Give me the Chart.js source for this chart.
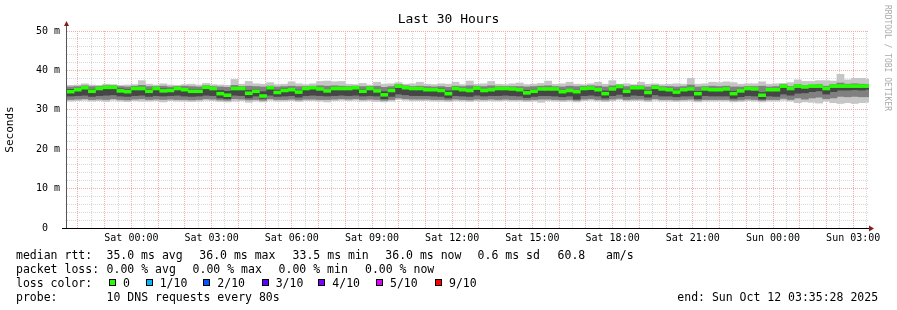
<!DOCTYPE html>
<html>
<head>
<meta charset="utf-8">
<script src="https://cdn.jsdelivr.net/npm/chart.js@4.4.1/dist/chart.umd.min.js"></script>
<style>
  body { margin: 0; background: #fff; }
  #wrap { position: relative; width: 897px; height: 310px; font-family: "DejaVu Sans Mono", monospace; color: #000; overflow: hidden; }
  #chart { position: absolute; left: 0; top: 0; }
  #title { position: absolute; left: 0; top: 11px; width: 897px; text-align: center; font-size: 13px; line-height: 16px; }
  #mark { position: absolute; left: 883px; top: 5px; writing-mode: vertical-rl; font-size: 8px; line-height: 8px; color: #aaa; }
  .t { position: absolute; white-space: pre; font-size: 11.5px; line-height: 14px; }
  .box { position: absolute; width: 5px; height: 5px; border: 1px solid #000; }
</style>
</head>
<body>
<div id="wrap">
  <canvas id="chart" width="897" height="310"></canvas>
  <div id="title">Last 30 Hours</div>
  <div id="mark">RRDTOOL / TOBI OETIKER</div>
  <div id="legend"></div>
</div>
<script>
// time axis in hours relative to Sat 00:00 (window Fri 21:35:28 .. Sun 03:35:28)
const startHour = -2.409;
const endHour = 27.591;
const stepHours = 16 / 60;

const tickHours = [0, 3, 6, 9, 12, 15, 18, 21, 24, 27];
const tickLabels = ['Sat 00:00', 'Sat 03:00', 'Sat 06:00', 'Sat 09:00', 'Sat 12:00',
    'Sat 15:00', 'Sat 18:00', 'Sat 21:00', 'Sun 00:00', 'Sun 03:00'];
const yTickValues = [0, 10, 20, 30, 40, 50];
const yTickLabels = ['0  ', '10 m', '20 m', '30 m', '40 m', '50 m'];

// median rtt per step (ms)
const median = [
    34.6, 35.1, 35.6, 34.7, 35.4, 35.7, 35.7, 34.8, 34.6, 35.4,
    35.4, 34.7, 35.4, 34.8, 34.9, 35.4, 35.1, 34.7, 34.7, 35.7,
    35.4, 34.1, 33.7, 35.4, 35.4, 34.2, 34.7, 33.5, 35.6, 34.4,
    34.9, 35.1, 34.5, 35.4, 35.6, 35.3, 34.8, 35.4, 35.4, 35.4,
    35.6, 34.7, 35.4, 34.8, 33.8, 34.9, 36.0, 35.6, 35.4, 35.4,
    35.1, 35.1, 34.9, 34.1, 35.4, 35.1, 34.9, 35.5, 34.9, 35.1,
    35.4, 35.4, 35.3, 35.1, 34.3, 34.7, 35.3, 35.3, 35.3, 34.6,
    34.9, 34.6, 35.4, 35.5, 35.1, 34.1, 35.3, 35.9, 34.7, 35.6,
    35.6, 34.4, 35.7, 35.3, 35.1, 34.5, 35.1, 35.3, 34.1, 35.3,
    35.1, 35.1, 35.3, 34.1, 34.8, 35.4, 35.3, 33.7, 35.1, 35.1,
    36.0, 35.4, 36.0, 35.8, 36.0, 36.0, 35.4, 36.0, 36.0, 36.0, 36.0, 36.0, 36.0
];

// smoke: outer ping range (light)
const smokeTop = [
    36.2, 36.3, 36.6, 36.3, 36.2, 36.5, 36.4, 36.2, 36.3, 36.4,
    37.4, 36.5, 36.3, 36.6, 36.3, 36.2, 36.4, 36.5, 36.3, 36.7,
    36.4, 36.3, 36.2, 37.7, 36.5, 37.2, 36.6, 36.5, 36.9, 36.4,
    36.5, 37.1, 36.6, 36.4, 36.6, 37.2, 37.3, 37.1, 37.2, 36.5,
    36.4, 36.7, 36.3, 37.0, 36.5, 36.6, 36.9, 36.5, 36.6, 37.0,
    36.5, 36.4, 36.6, 36.5, 37.0, 36.4, 37.3, 36.5, 36.6, 37.2,
    36.5, 36.4, 36.6, 36.8, 36.4, 36.5, 36.7, 37.3, 36.5, 36.6,
    37.0, 36.5, 36.4, 36.6, 37.0, 36.5, 37.4, 36.5, 36.6, 36.4,
    37.0, 36.5, 36.6, 36.4, 36.5, 36.6, 36.5, 38.0, 36.5, 36.6,
    37.0, 36.9, 37.1, 36.9, 36.5, 36.6, 36.6, 37.1, 36.5, 36.6,
    36.7, 36.9, 37.6, 37.2, 37.2, 37.4, 37.4, 37.3, 39.0, 37.6, 38.0, 38.0, 37.8
];
const smokeBottom = [
    32.2, 32.3, 32.4, 32.2, 32.3, 32.1, 32.4, 32.2, 32.1, 32.3,
    32.2, 32.2, 32.3, 32.0, 32.3, 32.2, 32.2, 32.1, 32.2, 32.4,
    32.3, 32.1, 32.0, 32.2, 32.3, 31.9, 32.2, 32.0, 32.4, 32.2,
    32.2, 32.3, 32.1, 32.3, 32.3, 32.2, 32.0, 32.3, 32.4, 32.3,
    32.4, 32.2, 32.3, 32.1, 32.0, 32.2, 32.6, 32.4, 32.3, 32.3,
    32.3, 32.2, 32.2, 32.1, 32.3, 32.2, 32.1, 32.3, 32.2, 32.3,
    32.2, 32.3, 32.2, 32.2, 32.1, 32.2, 31.9, 32.3, 32.2, 32.1,
    32.2, 32.0, 32.3, 32.4, 32.2, 32.1, 32.3, 32.5, 32.2, 32.3,
    32.3, 32.1, 32.4, 32.2, 32.2, 32.1, 32.2, 32.3, 32.0, 32.2,
    32.2, 32.2, 32.2, 32.0, 32.1, 32.3, 32.2, 32.0, 32.2, 32.2,
    32.4, 32.2, 31.8, 32.0, 31.9, 31.7, 32.2, 31.8, 31.6, 31.8, 31.6, 31.8, 31.9
];

// smoke: middle ping range (medium)
const smokeUpper = [
    35.8, 35.9, 36.1, 35.9, 35.9, 36.1, 36.1, 35.9, 35.8, 36.0,
    36.2, 35.9, 35.9, 36.0, 35.8, 35.9, 36.0, 35.9, 35.8, 36.1,
    35.9, 35.8, 35.7, 36.2, 35.9, 36.0, 35.9, 35.8, 36.0, 35.8,
    35.9, 36.0, 35.9, 35.9, 36.0, 36.1, 36.0, 36.1, 36.0, 35.9,
    36.0, 35.9, 35.9, 36.0, 35.7, 35.9, 36.4, 36.1, 35.9, 36.0,
    35.9, 35.8, 35.9, 35.7, 36.0, 35.9, 36.1, 36.0, 35.9, 36.1,
    35.9, 35.9, 35.9, 35.9, 35.8, 35.9, 36.0, 36.1, 35.9, 35.8,
    36.0, 35.9, 36.0, 36.1, 36.0, 35.8, 36.1, 36.3, 35.9, 36.1,
    36.1, 35.8, 36.2, 35.9, 35.9, 35.8, 35.9, 36.3, 35.8, 35.9,
    36.0, 35.9, 36.0, 35.8, 35.8, 35.9, 35.9, 36.0, 35.8, 35.9,
    36.4, 35.9, 36.4, 36.2, 36.3, 36.4, 36.0, 36.4, 36.8, 36.5, 36.6, 36.5, 36.4
];
const smokeLower = [
    32.6, 32.7, 32.8, 32.6, 32.7, 32.6, 32.8, 32.6, 32.5, 32.7,
    32.8, 32.6, 32.7, 32.6, 32.7, 32.6, 32.6, 32.5, 32.6, 32.8,
    32.7, 32.5, 32.4, 32.8, 32.7, 32.5, 32.6, 32.4, 32.8, 32.6,
    32.6, 32.7, 32.5, 32.7, 32.7, 32.6, 32.6, 32.7, 32.8, 32.7,
    32.8, 32.6, 32.7, 32.6, 32.4, 32.6, 33.0, 32.8, 32.7, 32.7,
    32.7, 32.6, 32.6, 32.5, 32.7, 32.6, 32.5, 32.7, 32.6, 32.7,
    32.6, 32.7, 32.6, 32.6, 32.5, 32.6, 32.7, 32.7, 32.6, 32.5,
    32.6, 32.4, 32.7, 32.8, 32.6, 32.5, 32.7, 32.9, 32.6, 32.7,
    32.7, 32.5, 32.8, 32.6, 32.6, 32.5, 32.6, 32.7, 32.4, 32.6,
    32.6, 32.6, 32.6, 32.4, 32.5, 32.7, 32.6, 32.4, 32.6, 32.6,
    32.9, 32.6, 33.0, 32.7, 33.0, 33.2, 32.8, 33.0, 33.4, 33.3, 33.4, 33.3, 33.3
];

// smoke: inner ping range (dark)
const coreTop = [
    35.2, 35.4, 35.8, 35.2, 35.5, 35.8, 35.8, 35.3, 35.1, 35.6,
    35.6, 35.2, 35.6, 35.3, 35.3, 35.6, 35.4, 35.2, 35.2, 35.8,
    35.6, 34.9, 34.7, 35.6, 35.6, 34.9, 35.1, 34.6, 35.8, 35.0,
    35.3, 35.4, 35.0, 35.6, 35.8, 35.5, 35.2, 35.6, 35.6, 35.6,
    35.8, 35.2, 35.6, 35.2, 34.6, 35.3, 36.1, 35.8, 35.6, 35.6,
    35.4, 35.4, 35.3, 34.8, 35.6, 35.4, 35.2, 35.7, 35.2, 35.4,
    35.6, 35.6, 35.5, 35.4, 34.9, 35.1, 35.5, 35.5, 35.5, 35.0,
    35.2, 35.0, 35.6, 35.7, 35.4, 34.8, 35.5, 36.0, 35.1, 35.8,
    35.8, 34.9, 35.8, 35.5, 35.4, 35.0, 35.4, 35.5, 34.7, 35.5,
    35.4, 35.4, 35.5, 34.7, 35.1, 35.6, 35.5, 34.4, 35.4, 35.4,
    36.0, 35.6, 36.0, 35.9, 36.0, 36.0, 35.6, 36.0, 36.0, 36.0, 36.0, 36.0, 36.0
];
const coreBottom = [
    33.5, 33.6, 33.7, 33.4, 33.6, 33.7, 33.8, 33.5, 33.4, 33.6,
    33.7, 33.4, 33.6, 33.5, 33.6, 33.7, 33.5, 33.4, 33.5, 33.7,
    33.6, 33.0, 32.8, 33.7, 33.6, 33.0, 33.5, 32.9, 33.7, 33.4,
    33.5, 33.6, 33.2, 33.6, 33.7, 33.6, 33.5, 33.6, 33.7, 33.6,
    33.7, 33.5, 33.6, 33.5, 32.8, 33.4, 34.0, 33.8, 33.6, 33.6,
    33.6, 33.5, 33.4, 33.0, 33.6, 33.5, 33.4, 33.7, 33.5, 33.6,
    33.6, 33.7, 33.6, 33.5, 33.1, 33.4, 33.6, 33.6, 33.5, 33.3,
    33.5, 32.7, 33.6, 33.7, 33.5, 33.0, 33.6, 33.9, 33.4, 33.7,
    33.6, 33.2, 33.8, 33.5, 33.5, 33.3, 33.5, 33.5, 32.8, 33.6,
    33.5, 33.5, 33.5, 32.9, 33.3, 33.6, 33.5, 32.7, 33.5, 33.4,
    34.0, 33.7, 34.2, 34.3, 34.6, 34.8, 34.0, 34.6, 35.0, 35.0, 35.1, 35.0, 35.2
];

const lossLabels = ['0', '1/10', '2/10', '3/10', '4/10', '5/10', '9/10'];
const lossColors = ['#26ff00', '#00b8ff', '#0059ff', '#5e00ff', '#7e00ff', '#dd00ff', '#ff0000'];

function band(lo, hi) {
    return lo.map((v, i) => ({ x: startHour + (i + 0.5) * stepHours, y: [v, hi[i]] }));
}

function barSet(label, data, color, order) {
    return {
        type: 'bar',
        label: label,
        data: data,
        backgroundColor: color,
        borderWidth: 0,
        grouped: false,
        barPercentage: 1,
        categoryPercentage: 1,
        order: order
    };
}

// median drawn as a 3px stroke centred on the value
const medianLine = median.map((m, i) => ({ x: startHour + (i + 0.5) * stepHours, y: [m - 0.37, m + 0.37] }));

const MAJOR = '#f7acac';
const MINOR = '#d8d8d8';
const tickFont = { family: 'DejaVu Sans Mono', size: 10 };

// axis lines with the small rrdtool arrows
const axesArrows = {
    id: 'axesArrows',
    afterDraw(chart) {
        let ctx = chart.ctx;
        let a = chart.chartArea;
        ctx.save();
        ctx.lineWidth = 1;
        ctx.strokeStyle = '#555';
        ctx.beginPath();
        ctx.moveTo(a.left - 0.5, a.bottom);
        ctx.lineTo(a.left - 0.5, a.top - 6);
        ctx.stroke();
        ctx.strokeStyle = '#000';
        ctx.beginPath();
        ctx.moveTo(a.left - 5, a.bottom + 0.5);
        ctx.lineTo(a.right + 1, a.bottom + 0.5);
        ctx.stroke();
        ctx.fillStyle = '#8b1c1c';
        ctx.beginPath();
        ctx.moveTo(a.left - 0.5, a.top - 10);
        ctx.lineTo(a.left - 3, a.top - 5);
        ctx.lineTo(a.left + 2, a.top - 5);
        ctx.fill();
        ctx.beginPath();
        ctx.moveTo(a.right + 5, a.bottom + 0.5);
        ctx.lineTo(a.right, a.bottom - 2.5);
        ctx.lineTo(a.right, a.bottom + 3.5);
        ctx.fill();
        ctx.restore();
    }
};

let ctx = document.getElementById('chart').getContext('2d');
window.smoke = new Chart(ctx, {
    type: 'bar',
    data: {
        datasets: [
            barSet('median rtt', medianLine, lossColors[0], 0),
            barSet('inner', band(coreBottom, coreTop), '#464646', 1),
            barSet('middle', band(smokeLower, smokeUpper), '#808080', 2),
            barSet('outer', band(smokeBottom, smokeTop), '#c6c6c6', 3)
        ]
    },
    options: {
        responsive: false,
        animation: false,
        devicePixelRatio: 1,
        layout: { padding: { top: 31, right: 28, bottom: 0, left: 0 } },
        plugins: { legend: { display: false }, tooltip: { enabled: false }, title: { display: false } },
        scales: {
            x: {
                type: 'linear',
                min: startHour,
                max: endHour,
                offset: false,
                z: 1,
                afterBuildTicks: (s) => {
                    let t = [];
                    for (let h = -2; h <= 27.5; h += 0.5) t.push({ value: h });
                    s.ticks = t;
                },
                afterFit: (s) => { s.height = 82; },
                grid: {
                    offset: false,
                    drawTicks: false,
                    color: (c) => Number.isInteger(c.tick.value) ? MAJOR : MINOR
                },
                border: { display: false, dash: [1, 1] },
                ticks: {
                    autoSkip: false,
                    maxRotation: 0,
                    padding: 4,
                    color: '#000',
                    font: tickFont,
                    callback: (v) => {
                        let i = tickHours.indexOf(v);
                        return i >= 0 ? tickLabels[i] : '';
                    }
                }
            },
            y: {
                type: 'linear',
                min: 0,
                max: 50,
                z: 1,
                afterBuildTicks: (s) => {
                    let t = [];
                    for (let v = 0; v <= 50; v += 2) t.push({ value: v });
                    s.ticks = t;
                },
                afterFit: (s) => { s.width = 67; },
                grid: {
                    drawTicks: false,
                    color: (c) => c.tick.value === 0 ? 'rgba(0,0,0,0)' : (c.tick.value % 10 === 0 ? MAJOR : MINOR)
                },
                border: { display: false, dash: [1, 1] },
                title: {
                    display: true,
                    text: 'Seconds',
                    color: '#000',
                    font: { family: 'DejaVu Sans Mono', size: 11 },
                    padding: { top: 4, bottom: 0 }
                },
                ticks: {
                    autoSkip: false,
                    padding: 7,
                    color: '#000',
                    font: tickFont,
                    callback: (v) => {
                        let i = yTickValues.indexOf(v);
                        return i >= 0 ? yTickLabels[i] : '';
                    }
                }
            }
        }
    },
    plugins: [axesArrows]
});

// legend block under the graph
let legend = document.getElementById('legend');
function put(text, left, top) {
    let s = document.createElement('span');
    s.className = 't';
    s.textContent = text;
    s.style.left = left + 'px';
    s.style.top = top + 'px';
    legend.appendChild(s);
}

put('median rtt:', 16, 248);
put('35.0 ms avg', 106.5, 248);
put('36.0 ms max', 199.3, 248);
put('33.5 ms min', 292.6, 248);
put('36.0 ms now', 385.3, 248);
put('0.6 ms sd', 477.6, 248);
put('60.8', 557.6, 248);
put('am/s', 606, 248);

put('packet loss:', 16, 262);
put('0.00 % avg', 106.6, 262);
put('0.00 % max', 192.6, 262);
put('0.00 % min', 278.6, 262);
put('0.00 % now', 365, 262);

put('loss color:', 16, 276);
let boxX = [109, 145.7, 203.3, 261.7, 318.3, 376, 435];
lossLabels.forEach((l, i) => {
    let b = document.createElement('span');
    b.className = 'box';
    b.style.left = boxX[i] + 'px';
    b.style.top = '279px';
    b.style.background = lossColors[i];
    legend.appendChild(b);
    put(l, boxX[i] + 14, 276);
});

put('probe:', 16, 290);
put('10 DNS requests every 80s', 106.6, 290);
put('end: Sun Oct 12 03:35:28 2025', 677.3, 290);
</script>
</body>
</html>
